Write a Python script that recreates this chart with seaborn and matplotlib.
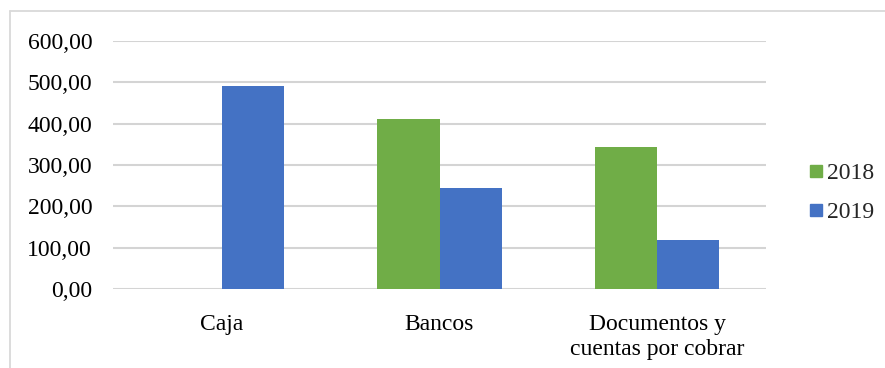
import matplotlib
matplotlib.use("Agg")
import matplotlib.pyplot as plt
import matplotlib.lines as mlines
import seaborn as sns
import pandas as pd

categories = ["Caja", "Bancos", "Documentos y\ncuentas por cobrar"]
years = ["2018", "2019"]
values_2018 = [0, 412, 344]
values_2019 = [491, 245, 118]
y_ticks = [0, 100, 200, 300, 400, 500, 600]

df = pd.DataFrame({
    "cuenta": categories * 2,
    "año": [years[0]] * 3 + [years[1]] * 3,
    "valor": values_2018 + values_2019,
})

sns.set_theme(style="white")
plt.rcParams["font.family"] = ["Liberation Serif", "DejaVu Serif"]

W, H = 885, 368
fig = plt.figure(figsize=(W / 100, H / 100), dpi=100)
ax = fig.add_axes([113 / W, 1 - 289.3 / H, (766 - 113) / W, (289.3 - 40.7) / H])

palette = {"2018": "#70AD47", "2019": "#4472C4"}
sns.barplot(data=df, x="cuenta", y="valor", hue="año", palette=palette,
            width=0.57, linewidth=0, saturation=1, ax=ax, legend=False)

ax.set_ylim(0, 600)
ax.set_yticks(y_ticks)
ax.set_yticklabels([f"{v:.2f}".replace(".", ",") for v in y_ticks])
ax.set_xlim(-0.5, 2.5)
ax.set_xlabel("")
ax.set_ylabel("")
ax.yaxis.grid(True, color="#d4d4d4", linewidth=1.5)
ax.set_axisbelow(True)
for s in ax.spines.values():
    s.set_visible(False)
ax.tick_params(axis="y", length=0, pad=15, labelsize=17, labelcolor="#000000")
ax.tick_params(axis="x", length=0, pad=18, labelsize=17, labelcolor="#000000")
for lbl in ax.get_xticklabels():
    lbl.set_linespacing(1.2)

# legend at the right
handles = [mlines.Line2D([], [], marker="s", linestyle="none", markersize=9,
                         markerfacecolor=palette[y], markeredgecolor=palette[y])
           for y in years]
fig.legend(handles, years, loc="center left", bbox_to_anchor=(797 / W, 1 - 193 / H),
           frameon=False, fontsize=17, handlelength=0.8, handletextpad=0.05,
           labelspacing=0.75, borderaxespad=0)

# chart frame
fig.add_artist(mlines.Line2D([9.5 / W, 9.5 / W], [0, 1 - 11 / H],
                             transform=fig.transFigure, color="#d9d9d9", lw=1.3))
fig.add_artist(mlines.Line2D([9.5 / W, 1], [1 - 11 / H, 1 - 11 / H],
                             transform=fig.transFigure, color="#d9d9d9", lw=1.3))

fig.savefig("out.png", dpi=100, facecolor="white")
